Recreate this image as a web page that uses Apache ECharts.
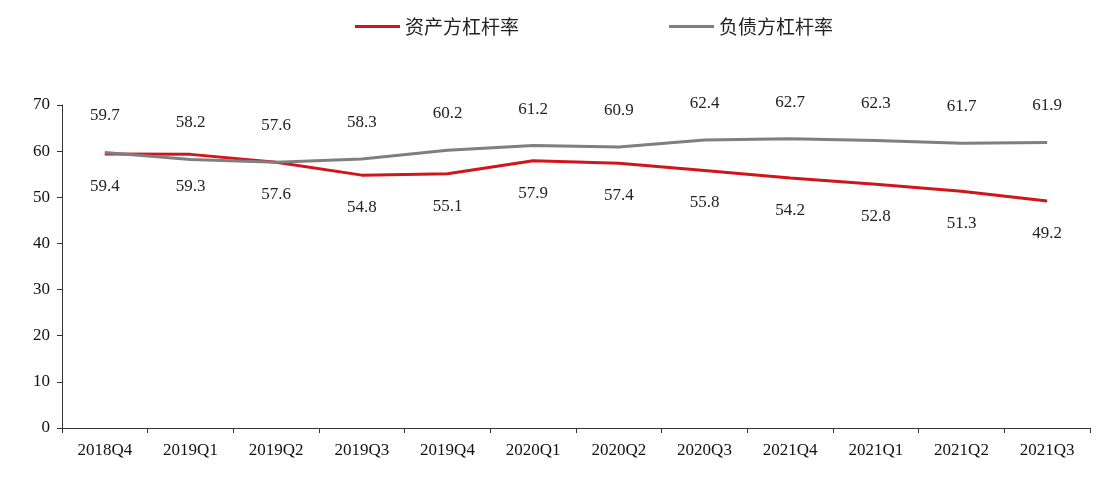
<!DOCTYPE html>
<html><head><meta charset="utf-8">
<script src="https://cdn.jsdelivr.net/npm/echarts@6/dist/echarts.min.js"></script>
<style>html,body{margin:0;padding:0;background:#fff}#chartmain{width:1101px;height:484px}</style>
</head><body>
<div id="chartmain"></div>
<script>
var quarters = ['2018Q4','2019Q1','2019Q2','2019Q3','2019Q4','2020Q1','2020Q2','2020Q3','2021Q4','2021Q1','2021Q2','2021Q3'];
var assetRatio = [59.4,59.3,57.6,54.8,55.1,57.9,57.4,55.8,54.2,52.8,51.3,49.2];
var debtRatio = [59.7,58.2,57.6,58.3,60.2,61.2,60.9,62.4,62.7,62.3,61.7,61.9];
var yTicks = [0,10,20,30,40,50,60,70];

var numFont = 'Liberation Serif';
var option = {
	animation : false,
	legend : {
		top : 12,
		left : 350,
		itemGap : 150,
		itemWidth : 45,
		itemHeight : 3,
		icon : 'rect',
		textStyle : { fontFamily : 'Noto Sans CJK SC', fontSize : 19, color : '#222' }
	},
	grid : { left : 62, right : 11, top : 105, bottom : 56 },
	xAxis : {
		type : 'category',
		data : quarters,
		axisLine : { lineStyle : { color : '#333' } },
		axisTick : { show : true, lineStyle : { color : '#333' } },
		axisLabel : { fontFamily : numFont, fontSize : 17, color : '#111', margin : 14 }
	},
	yAxis : {
		type : 'value',
		min : yTicks[0],
		max : yTicks[yTicks.length - 1],
		interval : 10,
		splitLine : { show : false },
		axisLine : { show : true, lineStyle : { color : '#333' } },
		axisTick : { show : true, lineStyle : { color : '#333' } },
		axisLabel : { fontFamily : numFont, fontSize : 17, color : '#111', margin : 12 }
	},
	series : [ {
		name : '资产方杠杆率',
		type : 'line',
		data : assetRatio,
		symbolSize : 0,
		showSymbol : true,
		lineStyle : { color : '#d0161c', width : 3 },
		itemStyle : { color : '#d0161c' },
		label : { show : true, position : 'bottom', distance : 24, fontFamily : numFont, fontSize : 17, color : '#222' }
	}, {
		name : '负债方杠杆率',
		type : 'line',
		data : debtRatio,
		symbolSize : 0,
		showSymbol : true,
		lineStyle : { color : '#7f7f7f', width : 3 },
		itemStyle : { color : '#7f7f7f' },
		label : { show : true, position : 'top', distance : 28, fontFamily : numFont, fontSize : 17, color : '#222' }
	} ]
};
var myChart = echarts.init(document.getElementById('chartmain'));
myChart.setOption(option);
</script>
</body></html>
